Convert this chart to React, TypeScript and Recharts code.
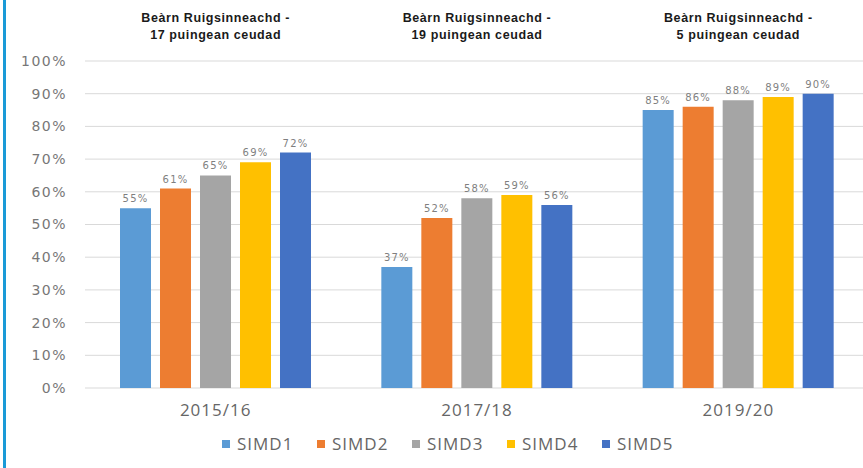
import React from "react";
import { BarChart, Bar, CartesianGrid, XAxis, YAxis, Legend, LabelList } from "recharts";

const periods = ["2015/16", "2017/18", "2019/20"];
const gapTitles = ["17 puingean ceudad", "19 puingean ceudad", "5 puingean ceudad"];
const simd1 = [55, 37, 85];
const simd2 = [61, 52, 86];
const simd3 = [65, 58, 88];
const simd4 = [69, 59, 89];
const simd5 = [72, 56, 90];
const yTicks = [0, 10, 20, 30, 40, 50, 60, 70, 80, 90, 100];

const seriesKeys = ["SIMD1", "SIMD2", "SIMD3", "SIMD4", "SIMD5"];
const seriesColors = ["#5B9BD5", "#ED7D31", "#A5A5A5", "#FFC000", "#4472C4"];

const data = periods.map((p, i) => ({
  period: p,
  title: gapTitles[i],
  SIMD1: simd1[i],
  SIMD2: simd2[i],
  SIMD3: simd3[i],
  SIMD4: simd4[i],
  SIMD5: simd5[i],
}));

const TitleTick = (props: any) => {
  const { x, payload } = props;
  return (
    <text
      x={x}
      textAnchor="middle"
      fontFamily="Liberation Sans, Arial"
      fontSize={12.5}
      fontWeight="bold"
      letterSpacing={0.6}
      fill="#1a1a1a"
    >
      <tspan x={x} y={22}>Beàrn Ruigsinneachd -</tspan>
      <tspan x={x} y={39}>{payload.value}</tspan>
    </text>
  );
};

const LegendContent = (props: any) => {
  const { payload } = props;
  return (
    <div style={{ display: "flex", justifyContent: "center", paddingLeft: 8 }}>
      {payload.map((entry: any, i: number) => (
        <div
          key={entry.value}
          style={{
            display: "flex",
            alignItems: "center",
            width: i === payload.length - 1 ? 73 : 95,
            whiteSpace: "nowrap",
          }}
        >
          <span style={{ display: "inline-block", width: 8, height: 8, background: entry.color, marginRight: 7 }} />
          <span style={{ fontFamily: "Open Sans", fontSize: 17, letterSpacing: 1, color: "#666" }}>{entry.value}</span>
        </div>
      ))}
    </div>
  );
};

const App: React.FC = () => {
  return (
    <div style={{ position: "absolute", left: 0, top: 0, width: 863, height: 468, background: "#fff" }}>
      <div style={{ position: "absolute", left: 3, top: 0, width: 3, height: 468, background: "#1a9ad7" }} />
      <BarChart
        width={863}
        height={468}
        data={data}
        barSize={31}
        barGap={9}
        margin={{ top: 6, right: -6, bottom: 6, left: 20 }}
      >
        <CartesianGrid vertical={false} stroke="#d9d9d9" />
        <XAxis
          xAxisId="top"
          orientation="top"
          dataKey="title"
          height={55}
          axisLine={false}
          tickLine={false}
          tick={<TitleTick />}
        />
        <XAxis
          dataKey="period"
          height={44}
          axisLine={false}
          tickLine={false}
          tickMargin={10}
          tick={{ fill: "#666", fontSize: 17, fontFamily: "Open Sans", letterSpacing: 1 }}
        />
        <YAxis
          domain={[0, 100]}
          ticks={yTicks}
          width={65}
          axisLine={false}
          tickLine={false}
          tickMargin={12}
          tickFormatter={(v: number) => `${v}%`}
          tick={{ fill: "#777", fontSize: 14, fontFamily: "DejaVu Sans", letterSpacing: 1.5 }}
        />
        <Legend verticalAlign="bottom" height={30} content={<LegendContent />} />
        {seriesKeys.map((k, i) => (
          <Bar key={k} dataKey={k} fill={seriesColors[i]} isAnimationActive={false}>
            <LabelList
              dataKey={k}
              position="top"
              offset={6}
              formatter={(v: any) => `${v}%`}
              style={{ fill: "#7f7f7f", fontSize: 10, fontFamily: "DejaVu Sans", letterSpacing: 1.2 }}
            />
          </Bar>
        ))}
      </BarChart>
    </div>
  );
};

export default App;
